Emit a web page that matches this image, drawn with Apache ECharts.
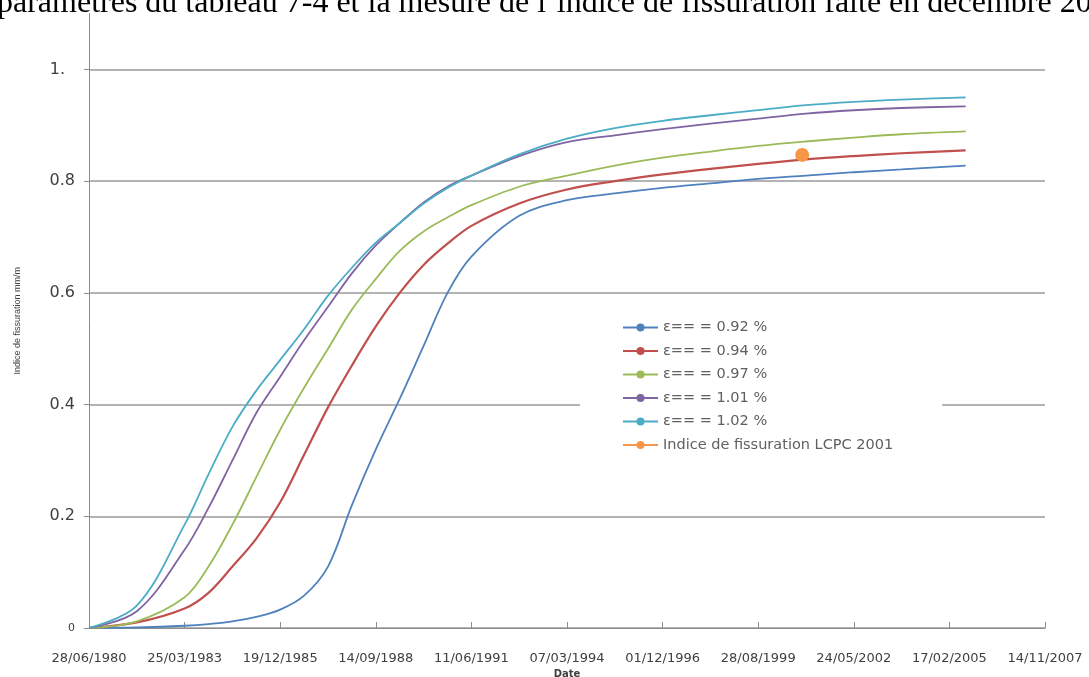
<!DOCTYPE html>
<html>
<head>
<meta charset="utf-8">
<script src="https://cdn.jsdelivr.net/npm/echarts@6/dist/echarts.min.js"></script>
<style>
html,body{margin:0;padding:0;background:#fff;}
#chart{width:1089px;height:677px;}
</style>
</head>
<body>
<div id="chart"></div>
<script>
// Days elapsed since 28/06/1980 (x values of the simulated curves)
const dayOffsets = [0,500,1000,1250,1500,1750,2000,2250,2500,2750,3000,3250,3500,3750,4000,4500,5000,5500,6000,6500,7000,7500,8000,8500,9170];

const seriesNames = ["ε== = 0.92 %","ε== = 0.94 %","ε== = 0.97 %","ε== = 1.01 %","ε== = 1.02 %"];
const eps092 = [0,0.001,0.004,0.007,0.012,0.02,0.033,0.058,0.11,0.22,0.32,0.41,0.505,0.6,0.665,0.738,0.766,0.778,0.788,0.796,0.804,0.81,0.816,0.821,0.828];
const eps094 = [0,0.01,0.035,0.063,0.11,0.16,0.225,0.31,0.395,0.47,0.54,0.6,0.65,0.688,0.72,0.76,0.785,0.8,0.812,0.822,0.831,0.839,0.845,0.85,0.855];
const eps097 = [0,0.012,0.055,0.11,0.185,0.27,0.355,0.43,0.5,0.57,0.625,0.675,0.71,0.735,0.757,0.79,0.81,0.828,0.842,0.853,0.863,0.871,0.878,0.884,0.889];
const eps101 = [0,0.03,0.14,0.215,0.3,0.385,0.45,0.515,0.575,0.635,0.685,0.725,0.762,0.79,0.81,0.845,0.87,0.882,0.893,0.903,0.912,0.921,0.927,0.931,0.934];
const eps102 = [0,0.04,0.185,0.275,0.36,0.425,0.48,0.535,0.595,0.645,0.69,0.725,0.76,0.788,0.81,0.848,0.876,0.895,0.908,0.918,0.927,0.936,0.942,0.946,0.95];

const lcpcName = "Indice de fissuration LCPC 2001";
const lcpcDay = [7460];
const lcpcValue = [0.847];

const xTickLabels = ["28/06/1980","25/03/1983","19/12/1985","14/09/1988","11/06/1991","07/03/1994","01/12/1996","28/08/1999","24/05/2002","17/02/2005","14/11/2007"];
const yTickLabels = {"0":"0","0.2":"0.2","0.4":"0.4","0.6":"0.6","0.8":"0.8","1":"1."};

const titleText = "paramètres du tableau 7-4 et la mesure de l’indice de fissuration faite en décembre 20";
const yAxisTitle = "Indice de fissuration mm/m";
const xAxisTitle = "Date";

const colors = ["#4F81BD","#C0504D","#9BBB59","#8064A2","#4BACC6","#F79646"];
const allValues = [eps092, eps094, eps097, eps101, eps102];

const chart = echarts.init(document.getElementById('chart'), null, {renderer:'canvas'});

const lineSeries = allValues.map((vals, i) => ({
  name: seriesNames[i],
  type: 'line',
  data: dayOffsets.map((d, k) => [d, vals[k]]),
  smooth: 0.35,
  showSymbol: false,
  symbol: 'circle',
  symbolSize: 4,
  lineStyle: {width: i === 1 ? 2.2 : 1.8, color: colors[i]},
  itemStyle: {color: colors[i]},
  z: 3
}));

lineSeries.push({
  name: lcpcName,
  type: 'line',
  data: lcpcDay.map((d, k) => [d, lcpcValue[k]]),
  symbol: 'circle',
  symbolSize: 14,
  lineStyle: {width: 2, color: colors[5]},
  itemStyle: {color: colors[5]},
  z: 5
});

chart.setOption({
  animation: false,
  backgroundColor: '#ffffff',
  color: colors,
  graphic: [{
    type: 'text',
    left: -3,
    top: -12,
    style: {
      text: titleText,
      font: '32px "Liberation Serif", "Times New Roman", serif',
      fill: '#000000'
    }
  }],
  grid: {left: 89, right: 44, top: 13.6, bottom: 49, containLabel: false, outerBoundsMode: 'none'},
  legend: {
    orient: 'vertical',
    left: 580,
    top: 300,
    padding: [20, 49, 40, 42],
    backgroundColor: '#ffffff',
    itemWidth: 35,
    itemHeight: 10,
    itemGap: 8.5,
    textStyle: {color: '#606060', fontSize: 14.5, fontFamily: '"DejaVu Sans", sans-serif'},
    data: seriesNames.concat([lcpcName])
  },
  xAxis: {
    type: 'value',
    min: 0,
    max: 10000,
    interval: 1000,
    name: xAxisTitle,
    nameLocation: 'middle',
    nameGap: 36,
    nameTextStyle: {fontSize: 10, fontWeight: 'bold', color: '#404040', fontFamily: '"DejaVu Sans", sans-serif'},
    axisLine: {show: true, lineStyle: {color: '#8c8c8c', width: 1}},
    axisTick: {show: true, inside: true, length: 6, lineStyle: {color: '#8c8c8c'}},
    splitLine: {show: false},
    axisLabel: {
      margin: 24,
      fontSize: 13,
      color: '#404040',
      fontFamily: '"DejaVu Sans", sans-serif',
      formatter: v => xTickLabels[Math.round(v / 1000)] || ''
    }
  },
  yAxis: {
    type: 'value',
    min: 0,
    max: 1.1,
    interval: 0.2,
    name: yAxisTitle,
    nameLocation: 'middle',
    nameGap: 67,
    nameTextStyle: {fontSize: 9, color: '#404040', fontFamily: '"Liberation Sans", sans-serif'},
    axisLine: {show: true, lineStyle: {color: '#8c8c8c', width: 1}},
    axisTick: {show: true, length: 5, lineStyle: {color: '#8c8c8c'}},
    splitLine: {show: true, showMaxLine: false, lineStyle: {color: '#9a9a9a', width: 1.5}},
    axisLabel: {
      margin: 14,
      showMaxLabel: false,
      color: '#404040',
      fontFamily: '"DejaVu Sans", sans-serif',
      fontSize: 16,
      formatter: v => {
        const key = String(Math.round(v * 10) / 10);
        const t = yTickLabels[key];
        if (t === undefined) return '';
        if (key === '0') return '{s|' + t + '}';
        if (key === '1') return '{one|' + t + '}';
        return t;
      },
      rich: {
        s: {fontSize: 11, color: '#404040', fontFamily: '"DejaVu Sans", sans-serif'},
        one: {fontSize: 16, color: '#404040', fontFamily: '"DejaVu Sans", sans-serif', padding: [0, 10, 0, 0]}
      }
    }
  },
  series: lineSeries
});
</script>
</body>
</html>
